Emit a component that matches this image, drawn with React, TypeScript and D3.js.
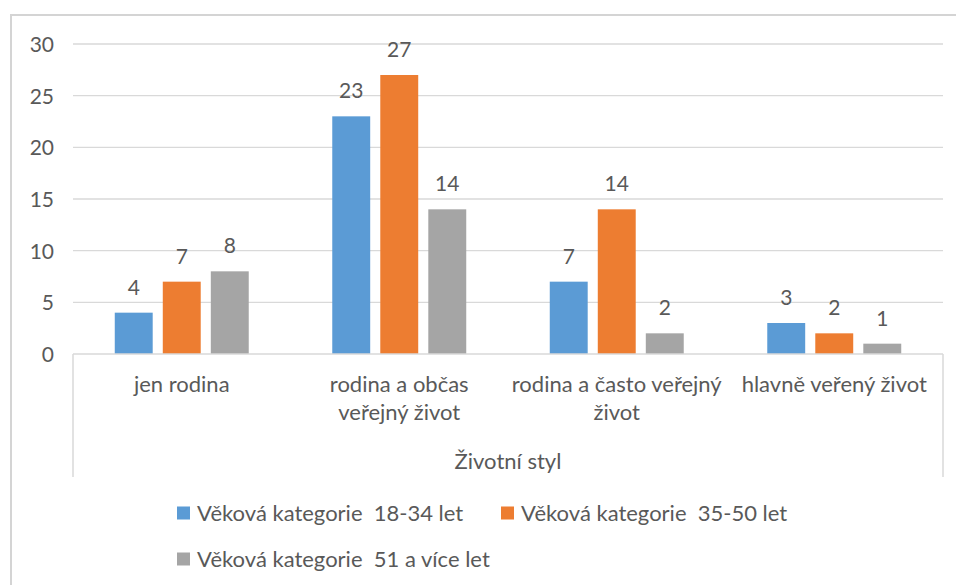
import React, { useEffect, useRef } from 'react';
import * as d3 from 'd3';

const categories = ['jen rodina', 'rodina a občas veřejný život', 'rodina a často veřejný život', 'hlavně veřený život'];
const categoryLines = [['jen rodina'], ['rodina a občas', 'veřejný život'], ['rodina a často veřejný', 'život'], ['hlavně veřený život']];
const seriesNames = ['Věková kategorie  18-34 let', 'Věková kategorie  35-50 let', 'Věková kategorie  51 a více let'];
const young = [4, 23, 7, 3];
const middle = [7, 27, 14, 2];
const older = [8, 14, 2, 1];
const yTicks = [0, 5, 10, 15, 20, 25, 30];
const axisTitle = 'Životní styl';
const colors = ['#5B9BD5', '#ED7D31', '#A5A5A5'];

const FONT = 'Lato, "Open Sans", sans-serif';
const TEXT = '#595959';
const FS = 22;

const App = () => {
  const chartRef = useRef<SVGSVGElement>(null);

  useEffect(() => {
    const svg = d3.select(chartRef.current);
    svg.selectAll('*').remove();

    const width = 956;
    const height = 585;
    const left = 73;
    const right = 943;
    const top = 44;
    const bottom = 354;

    // frame
    svg.append('line').attr('x1', 10).attr('x2', width).attr('y1', 15).attr('y2', 15)
      .attr('stroke', '#d4d4d4').attr('stroke-width', 2);
    svg.append('line').attr('x1', 11).attr('x2', 11).attr('y1', 15).attr('y2', height)
      .attr('stroke', '#d4d4d4').attr('stroke-width', 2);

    const series = [young, middle, older];

    const y = d3.scaleLinear().domain([0, 30]).range([bottom, top]);
    const x0 = d3.scaleBand().domain(categories).range([left, right])
      .paddingInner(0.384).paddingOuter(0.192);
    const x1 = d3.scaleBand().domain(seriesNames).range([0, x0.bandwidth()]).paddingInner(0.21);

    // gridlines
    svg.append('g').selectAll('line').data(yTicks.filter((t) => t > 0)).enter().append('line')
      .attr('x1', left).attr('x2', right)
      .attr('y1', (d) => y(d)).attr('y2', (d) => y(d))
      .attr('stroke', '#d9d9d9').attr('stroke-width', 1.3);

    // y tick labels
    svg.append('g').selectAll('text').data(yTicks).enter().append('text')
      .attr('x', 54).attr('y', (d) => y(d) + 8)
      .attr('text-anchor', 'end')
      .attr('font-family', FONT).attr('font-size', FS - 1).attr('fill', TEXT)
      .text((d) => d);

    // bars
    series.forEach((vals, si) => {
      const g = svg.append('g');
      g.selectAll('rect').data(vals).enter().append('rect')
        .attr('x', (d, i) => x0(categories[i])! + x1(seriesNames[si])!)
        .attr('y', (d) => y(d))
        .attr('width', x1.bandwidth())
        .attr('height', (d) => bottom - y(d))
        .attr('fill', colors[si]);
      g.selectAll('text').data(vals).enter().append('text')
        .attr('x', (d, i) => x0(categories[i])! + x1(seriesNames[si])! + x1.bandwidth() / 2)
        .attr('y', (d) => y(d) - 18)
        .attr('text-anchor', 'middle')
        .attr('font-family', FONT).attr('font-size', FS - 1).attr('fill', TEXT)
        .text((d) => d);
    });

    // category axis box
    svg.append('line').attr('x1', left).attr('x2', right).attr('y1', bottom).attr('y2', bottom)
      .attr('stroke', '#d9d9d9').attr('stroke-width', 1.5);
    [left, right].forEach((xv) => {
      svg.append('line').attr('x1', xv).attr('x2', xv).attr('y1', bottom).attr('y2', 477)
        .attr('stroke', '#d9d9d9').attr('stroke-width', 1.5);
    });

    // category labels
    const cat = svg.append('g').selectAll('text').data(categories).enter().append('text')
      .attr('text-anchor', 'middle')
      .attr('font-family', FONT).attr('font-size', FS).attr('fill', TEXT);
    cat.each(function (d, i) {
      const t = d3.select(this);
      categoryLines[i].forEach((line, li) => {
        t.append('tspan')
          .attr('x', x0(d)! + x0.bandwidth() / 2)
          .attr('y', 392 + li * 28)
          .text(line);
      });
    });

    svg.append('text').attr('x', (left + right) / 2).attr('y', 469)
      .attr('text-anchor', 'middle')
      .attr('font-family', FONT).attr('font-size', FS).attr('fill', TEXT)
      .text(axisTitle);

    // legend
    const legendPos = [[177, 513], [501, 513], [177, 559]];
    seriesNames.forEach((name, i) => {
      const [lx, ly] = legendPos[i];
      svg.append('rect').attr('x', lx).attr('y', ly - 6.5).attr('width', 13).attr('height', 13)
        .attr('fill', colors[i]);
      svg.append('text').attr('x', lx + 20).attr('y', ly + 8)
        .attr('font-family', FONT).attr('font-size', FS).attr('fill', TEXT)
        .style('white-space', 'pre')
        .text(name);
    });
  }, []);

  return (
    <svg
      ref={chartRef}
      width={956}
      height={585}
      style={{ position: 'absolute', left: 0, top: 0, background: '#fff' }}
    />
  );
};

export default App;
